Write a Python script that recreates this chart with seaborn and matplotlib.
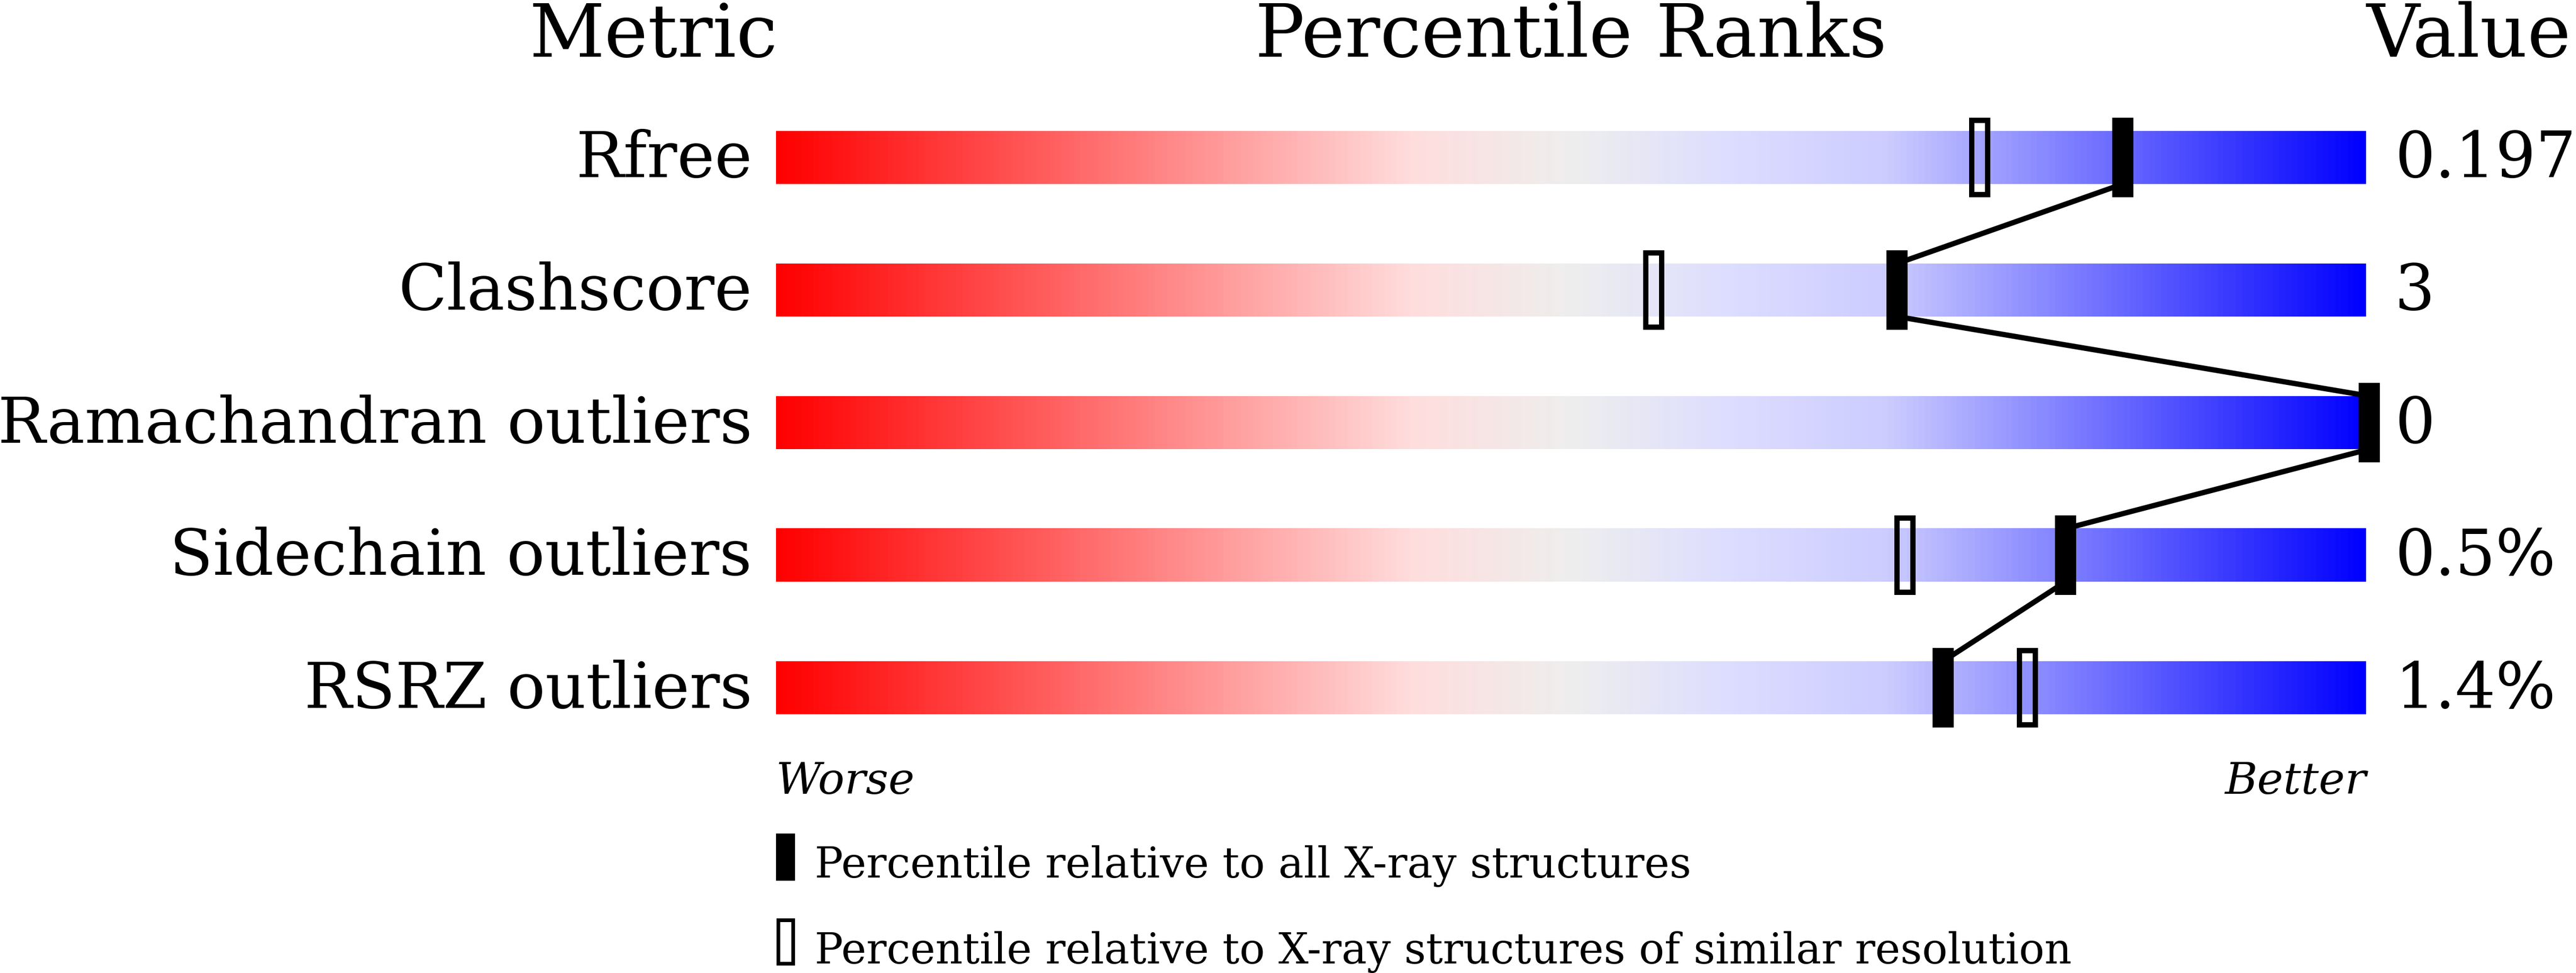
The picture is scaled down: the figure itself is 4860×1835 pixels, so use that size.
import numpy as np
import matplotlib
matplotlib.use("Agg")
import matplotlib.pyplot as plt
from matplotlib.colors import LinearSegmentedColormap
from matplotlib.patches import Rectangle
import seaborn as sns

metrics = ["Rfree", "Clashscore", "Ramachandran outliers", "Sidechain outliers", "RSRZ outliers"]
values = ["0.197", "3", "0", "0.5%", "1.4%"]
pct_all = [84.7, 70.5, 100.2, 81.1, 73.4]
pct_similar = [75.7, 55.2, 100.2, 71.0, 78.7]
legend_labels = ["Percentile relative to all X-ray structures",
                 "Percentile relative to X-ray structures of similar resolution"]

sns.set_theme(style="white")
plt.rcParams["font.family"] = ["DejaVu Serif"]
plt.rcParams["text.color"] = "black"

slider = LinearSegmentedColormap.from_list("slider", [
    (0.0, "#ff0000"), (0.4, "#ffdddd"), (0.5, "#eeeeee"),
    (0.6, "#ddddff"), (0.7, "#ccccff"), (1.0, "#0000ff")])

fig = plt.figure(figsize=(48.6, 18.35), dpi=100)
ax = fig.add_axes([0, 0, 1, 1])

grad = np.linspace(0, 1, 512).reshape(1, -1)
for i, name in enumerate(metrics):
    ax.imshow(grad, extent=[0, 100, i + 0.2, i - 0.2], aspect="auto", cmap=slider, zorder=1)
    ax.text(-1.5, i + 0.15, name, ha="right", va="baseline", fontsize=86)
    ax.text(101.8, i + 0.15, values[i], ha="left", va="baseline", fontsize=86)

# connecting line: bottom edge of one bar to the top edge of the next, at the "all" marker
lx, ly = [], []
for i, p in enumerate(pct_all):
    if i > 0:
        lx.append(p); ly.append(i - 0.2)
    if i < len(pct_all) - 1:
        lx.append(p); ly.append(i + 0.2)
sns.lineplot(x=lx, y=ly, sort=False, estimator=None, color="black", linewidth=7.2, ax=ax, zorder=2)

rows = np.arange(len(metrics))
ax.bar(pct_similar, 0.56, width=1.0, bottom=rows - 0.28, facecolor="none",
       edgecolor="black", linewidth=7.2, zorder=3)
ax.bar(pct_all, 0.6, width=1.35, bottom=rows - 0.3, color="black", linewidth=0, zorder=4)

# headers
ax.text(0.1, -0.76, "Metric", ha="right", va="baseline", fontsize=100)
ax.text(50, -0.76, "Percentile Ranks", ha="center", va="baseline", fontsize=100)
ax.text(100, -0.76, "Value", ha="left", va="baseline", fontsize=100)

ax.text(0, 4.8, "Worse", ha="left", va="baseline", fontsize=60, style="italic")
ax.text(100, 4.8, "Better", ha="right", va="baseline", fontsize=60, style="italic")

# legend
ax.add_patch(Rectangle((0, 5.10), 1.2, 0.356, facecolor="black", edgecolor="none"))
ax.add_patch(Rectangle((0.12, 5.75), 0.95, 0.33, facecolor="none", edgecolor="black", linewidth=5))
ax.text(2.45, 5.43, legend_labels[0], ha="left", va="baseline", fontsize=57.5)
ax.text(2.45, 6.08, legend_labels[1], ha="left", va="baseline", fontsize=57.5)

ax.set_xlim(-48.8, 113.2)
ax.set_ylim(6.152, -1.188)
ax.set_axis_off()

fig.savefig("out.png", dpi=100, facecolor="white")
